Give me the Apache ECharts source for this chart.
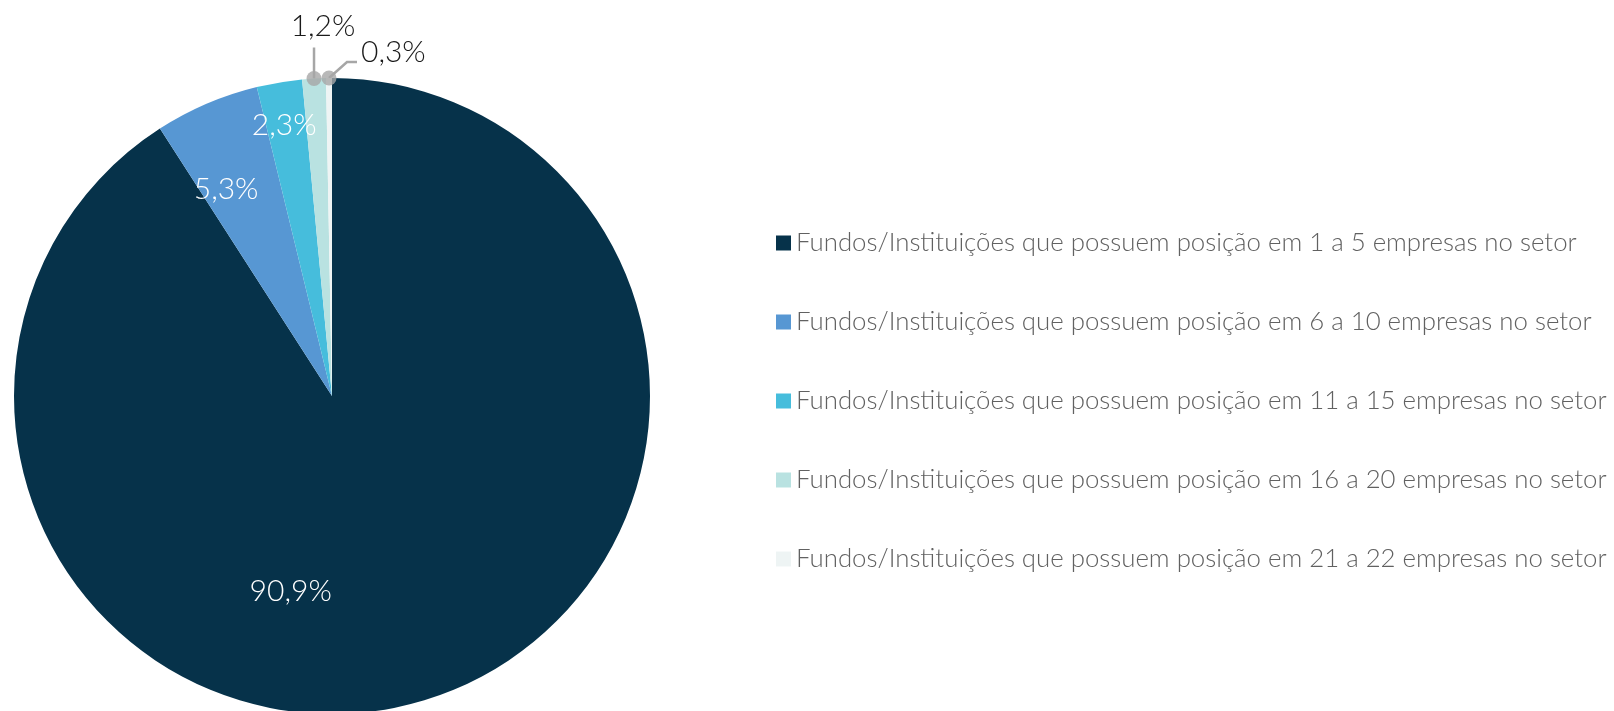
<!DOCTYPE html>
<html>
<head>
<meta charset="utf-8">
<script src="https://cdn.jsdelivr.net/npm/echarts@6/dist/echarts.min.js"></script>
<style>
  html, body { margin: 0; padding: 0; background: #fff; }
  #myChart { width: 1614px; height: 711px; }
</style>
</head>
<body>
<div id="myChart"></div>
<script>
// dados
var categorias = [
    'Fundos/Instituições que possuem posição em 1 a 5 empresas no setor',
    'Fundos/Instituições que possuem posição em 6 a 10 empresas no setor',
    'Fundos/Instituições que possuem posição em 11 a 15 empresas no setor',
    'Fundos/Instituições que possuem posição em 16 a 20 empresas no setor',
    'Fundos/Instituições que possuem posição em 21 a 22 empresas no setor'
];
var valores = [90.9, 5.3, 2.3, 1.2, 0.3];
var cores = ['#06324a', '#5797d3', '#46bddc', '#b9e2e1', '#eef4f4'];

var centro = [332, 396];
var raio = 318;
var total = valores.reduce(function (a, b) { return a + b; }, 0);

function fmt(v) {
    return v.toFixed(1).replace('.', ',') + '%';
}

// fatias pequenas ficam com rótulo de fora
var dentro = [true, true, true, false, false];
var desloc = [[-87, 40], [-42, -58], [-21, -111], [0, 0], [0, 0]];

var pieData = valores.map(function (v, i) {
    var item = { name: categorias[i], value: v, itemStyle: { color: cores[i] } };
    if (dentro[i]) {
        item.label = { position: 'inside', color: '#ffffff', offset: desloc[i] };
        item.labelLine = { show: false };
    } else {
        item.label = { position: 'outside', color: '#1a1a1a' };
        item.labelLine = { show: true };
    }
    return item;
});

// pontos cinzas no início das linhas dos rótulos externos
var acum = 0;
var pontos = [];
valores.forEach(function (v, i) {
    if (!dentro[i]) pontos.push([1, acum + v / 2]);
    acum += v;
});

var myChart = echarts.init(document.getElementById('myChart'));
myChart.setOption({
    animation: false,
    textStyle: { fontFamily: 'Lato' },
    legend: {
        orient: 'vertical',
        left: 771,
        top: 224,
        itemWidth: 15,
        itemHeight: 15,
        itemGap: 51,
        icon: 'rect',
        data: categorias,
        textStyle: {
            fontFamily: 'Lato',
            fontWeight: 300,
            fontSize: 25.8,
            lineHeight: 28,
            color: '#616161',
            padding: [0, 0, 0, 0]
        }
    },
    polar: { center: centro, radius: raio },
    angleAxis: { type: 'value', min: 0, max: total, startAngle: 90, show: false },
    radiusAxis: { type: 'value', min: 0, max: 1, show: false },
    series: [
        {
            name: 'setor',
            type: 'pie',
            center: centro,
            radius: raio,
            startAngle: 90,
            clockwise: true,
            avoidLabelOverlap: false,
            silent: true,
            label: {
                fontFamily: 'Lato',
                fontWeight: 300,
                fontSize: 30,
                formatter: function (p) { return fmt(p.value); }
            },
            labelLine: {
                length: 31,
                length2: 0,
                lineStyle: { color: '#a6a6a6', width: 2.5 }
            },
            labelLayout: function (p) {
                var pts = p.labelLinePoints;
                if (!pts) return {};
                var p0 = pts[0];
                if (p.dataIndex === 3) {
                    return {
                        x: p0[0] + 9, y: p0[1] - 52,
                        align: 'center', verticalAlign: 'middle',
                        labelLinePoints: [p0, [p0[0], p0[1] - 31]]
                    };
                }
                if (p.dataIndex === 4) {
                    return {
                        x: p0[0] + 32, y: p0[1] - 26,
                        align: 'left', verticalAlign: 'middle',
                        labelLinePoints: [p0, [p0[0] + 18, p0[1] - 16], [p0[0] + 28, p0[1] - 16]]
                    };
                }
                return {};
            },
            data: pieData
        },
        {
            type: 'scatter',
            coordinateSystem: 'polar',
            symbolSize: 15,
            silent: true,
            itemStyle: { color: '#a6a6a6' },
            z: 5,
            data: pontos
        }
    ]
});
</script>
</body>
</html>
